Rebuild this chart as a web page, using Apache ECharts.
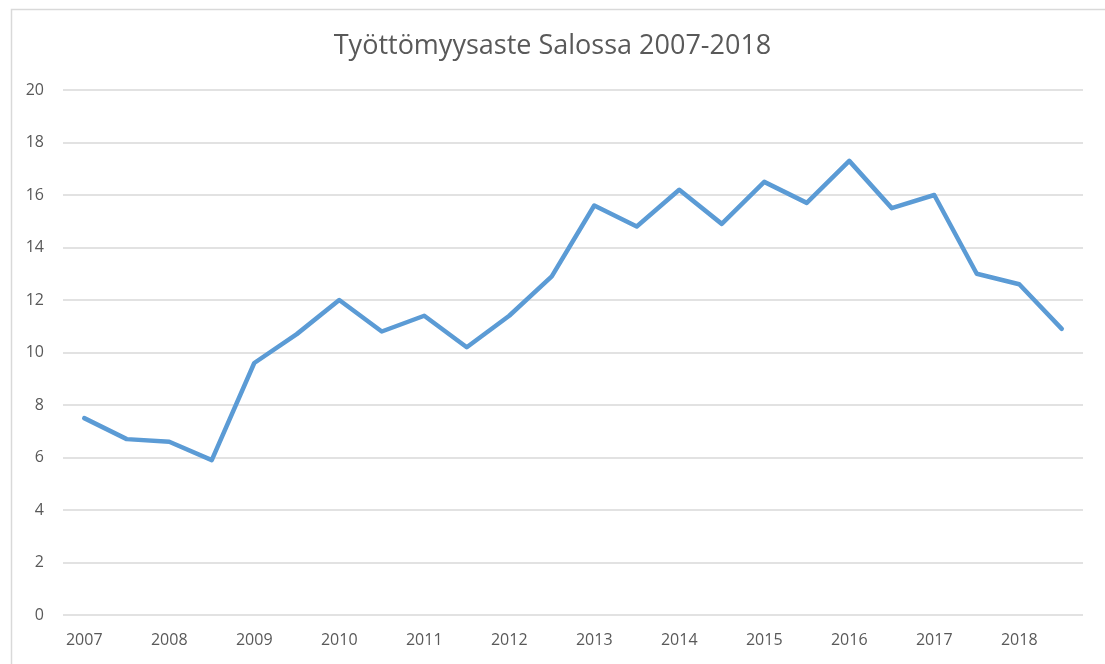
<!DOCTYPE html>
<html>
<head>
<meta charset="utf-8">
<script src="https://cdn.jsdelivr.net/npm/echarts@6/dist/echarts.min.js"></script>
<style>
html, body { margin: 0; padding: 0; background: #fff; }
#chart { width: 1105px; height: 664px; }
</style>
</head>
<body>
<div id="chart"></div>
<script>
"use strict";

/*****Data start*****/
// two readings per year, only the first of each year gets a label
var years = ['2007', '2008', '2009', '2010', '2011', '2012', '2013', '2014', '2015', '2016', '2017', '2018'];
var periods = [];
years.forEach(function (y) { periods.push(y); periods.push(y + ' II'); });
var rates = [7.5, 6.7, 6.6, 5.9, 9.6, 10.7, 12.0, 10.8, 11.4, 10.2, 11.4, 12.9,
	15.6, 14.8, 16.2, 14.9, 16.5, 15.7, 17.3, 15.5, 16.0, 13.0, 12.6, 10.9];
var yTicks = { min: 0, max: 20, step: 2 };
/*****Data end*****/

var chart = echarts.init(document.getElementById('chart'));
var textColor = '#595959';
var fontName = "'Open Sans', sans-serif";

var option = {
	animation: false,
	backgroundColor: '#fff',
	graphic: [{
		type: 'rect',
		left: 9,
		top: 7,
		shape: { width: 1110, height: 670 },
		style: { fill: 'none', stroke: '#d9d9d9', lineWidth: 1.5 },
		silent: true
	}],
	title: {
		text: 'Työttömyysaste Salossa 2007-2018',
		left: 'center',
		top: 28,
		textStyle: {
			color: textColor,
			fontFamily: fontName,
			fontWeight: 'normal',
			fontSize: 27
		}
	},
	grid: {
		left: 63,
		right: 22,
		top: 90,
		bottom: 49
	},
	xAxis: {
		type: 'category',
		boundaryGap: true,
		data: periods,
		axisLine: { show: false },
		axisTick: { show: false },
		axisLabel: {
			interval: 1,
			margin: 17,
			color: textColor,
			fontFamily: fontName,
			fontSize: 16,
			formatter: function (v) { return v.indexOf(' ') > -1 ? '' : v; }
		}
	},
	yAxis: {
		type: 'value',
		min: yTicks.min,
		max: yTicks.max,
		interval: yTicks.step,
		axisLine: { show: false },
		axisTick: { show: false },
		axisLabel: {
			margin: 19,
			color: textColor,
			fontFamily: fontName,
			fontSize: 16
		},
		splitLine: { lineStyle: { color: '#d9d9d9', width: 1.5 } }
	},
	series: [{
		name: 'Työttömyysaste',
		type: 'line',
		data: rates,
		symbol: 'none',
		lineStyle: { color: '#5b9bd5', width: 4.5, join: 'round', cap: 'round' }
	}]
};

chart.setOption(option);
</script>
</body>
</html>
